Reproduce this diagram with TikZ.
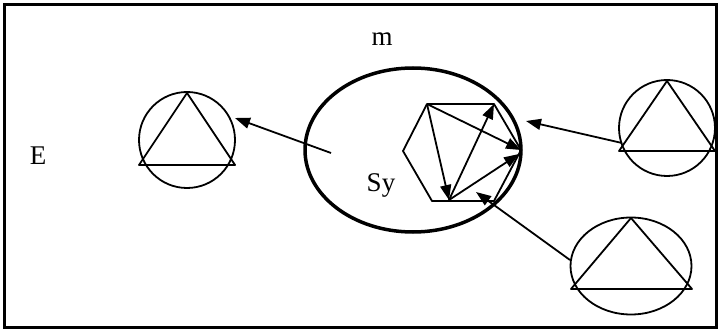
\documentclass[tikz,border=0pt]{standalone}
\usepackage{fontspec}
\setmainfont{Liberation Serif}
\usetikzlibrary{arrows.meta,shapes.geometric,calc}
\begin{document}
\begin{tikzpicture}[x=1pt,y=-1pt,
  thinline/.style={line width=1.8pt,line join=round},
  arr/.style={thinline,-{Triangle[length=15pt,width=11pt]}},
  lbl/.style={font=\fontsize{27}{30}\selectfont,inner sep=0pt}]
\useasboundingbox (0,0) rectangle (720,331);
% frame
\draw[line width=3pt] (4.5,4.5) rectangle (716.5,327);
% main ellipse
\node[draw,line width=3.5pt,ellipse,minimum width=216pt,minimum height=164pt,inner sep=0pt] (M) at (413,150) {};
\node[lbl] (m) at (382,39) {m};
\node[lbl] (E) at (38,156) {E};
\node[lbl] (Sy) at (381,185) {Sy};
% hexagon
\coordinate (h1) at (403,151);
\coordinate (A) at (427,104);
\coordinate (C) at (494,104);
\coordinate (D) at (521,150);
\coordinate (h5) at (494,201);
\coordinate (h6) at (432,201);
\coordinate (B) at (449,200);
\draw[thinline] (h1) -- (A) -- (C) -- (D) -- (h5) -- (h6) -- cycle;
\draw[arr] (A) -- (B);
\draw[arr] (A) -- (D);
\draw[arr] (B) -- (C);
\draw[arr] (B) -- ($(D)+(-2,4)$);
% left circle with triangle
\node[draw,thinline,circle,minimum size=96pt,inner sep=0pt] (L) at (187,140) {};
\coordinate (La) at (187,93);
\coordinate (Lb) at (139,165);
\coordinate (Lc) at (235,165);
\draw[thinline] (La) -- (Lb) -- (Lc) -- cycle;
% right circle with triangle
\node[draw,thinline,circle,minimum size=96pt,inner sep=0pt] (R) at (667,128) {};
\coordinate (Ra) at (667,81);
\coordinate (Rb) at (619,151);
\coordinate (Rc) at (715,151);
\draw[thinline] (Ra) -- (Rb) -- (Rc) -- cycle;
% bottom right ellipse with triangle
\node[draw,thinline,ellipse,minimum width=121pt,minimum height=97pt,inner sep=0pt] (BR) at (631,266) {};
\coordinate (Ba) at (631,218);
\coordinate (Bb) at (571,289);
\coordinate (Bc) at (692,289);
\draw[thinline] (Ba) -- (Bb) -- (Bc) -- cycle;
% external arrows
\coordinate (s1) at (331,153);
\coordinate (t1) at (235,118);
\draw[arr] (s1) -- (t1);
\coordinate (s2) at (622,143);
\coordinate (t2) at (526,121);
\draw[arr] (s2) -- (t2);
\coordinate (s3) at (570,260);
\coordinate (t3) at (476,192);
\draw[arr] (s3) -- (t3);
\end{tikzpicture}
\end{document}
